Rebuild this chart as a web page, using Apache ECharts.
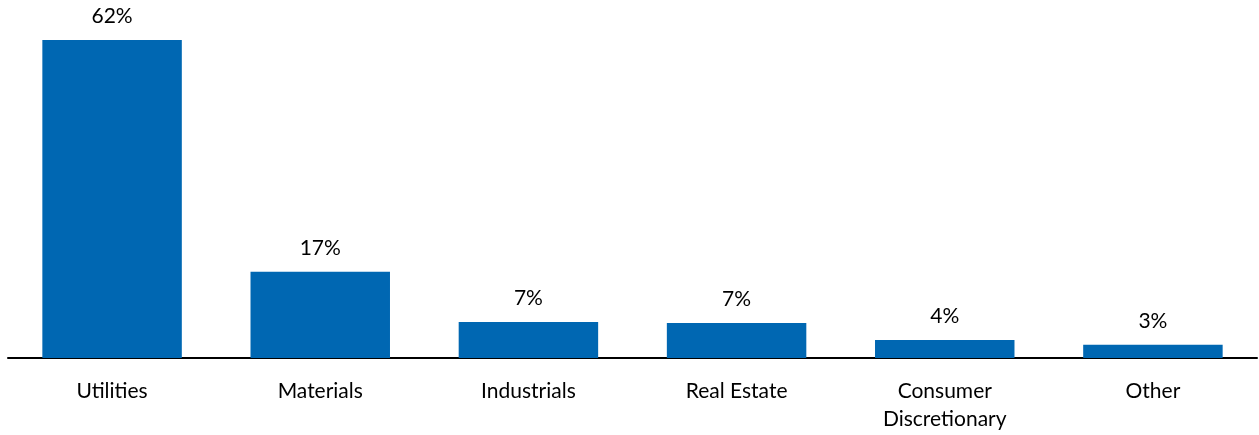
<!DOCTYPE html>
<html>
<head>
<meta charset="utf-8">
<script src="https://cdn.jsdelivr.net/npm/echarts@6/dist/echarts.min.js"></script>
<style>
    html, body { margin: 0; padding: 0; background: #fff; }
    #chart { width: 1259px; height: 435px; }
</style>
</head>
<body>
<div id="chart"></div>
<script>
    // sectors and weights (%)
    const categories = ['Utilities', 'Materials', 'Industrials', 'Real Estate', 'Consumer\nDiscretionary', 'Other'];
    const weights = [62.0, 16.8, 7.0, 6.8, 3.5, 2.6];

    const font = 'Lato, "Open Sans", sans-serif';

    var myChart = echarts.init(document.getElementById('chart'));
    myChart.setOption({
        animation: false,
        grid: {
            top: 40,
            left: 8,
            right: 2,
            bottom: 77
        },
        xAxis: {
            type: 'category',
            data: categories,
            axisLine: { lineStyle: { color: '#000', width: 2 } },
            axisTick: { show: false },
            axisLabel: {
                color: '#000',
                fontFamily: font,
                fontSize: 21,
                lineHeight: 28,
                margin: 19,
                interval: 0
            }
        },
        yAxis: {
            type: 'value',
            min: 0,
            max: 62,
            show: false,
            splitLine: { show: false }
        },
        series: [
            {
                type: 'bar',
                data: weights,
                barWidth: '67%',
                itemStyle: { color: '#0067b2' },
                label: {
                    show: true,
                    position: 'top',
                    distance: 13,
                    color: '#000',
                    fontFamily: font,
                    fontSize: 21,
                    formatter: (p) => Math.round(p.value) + '%'
                }
            }
        ]
    });
</script>
</body>
</html>
